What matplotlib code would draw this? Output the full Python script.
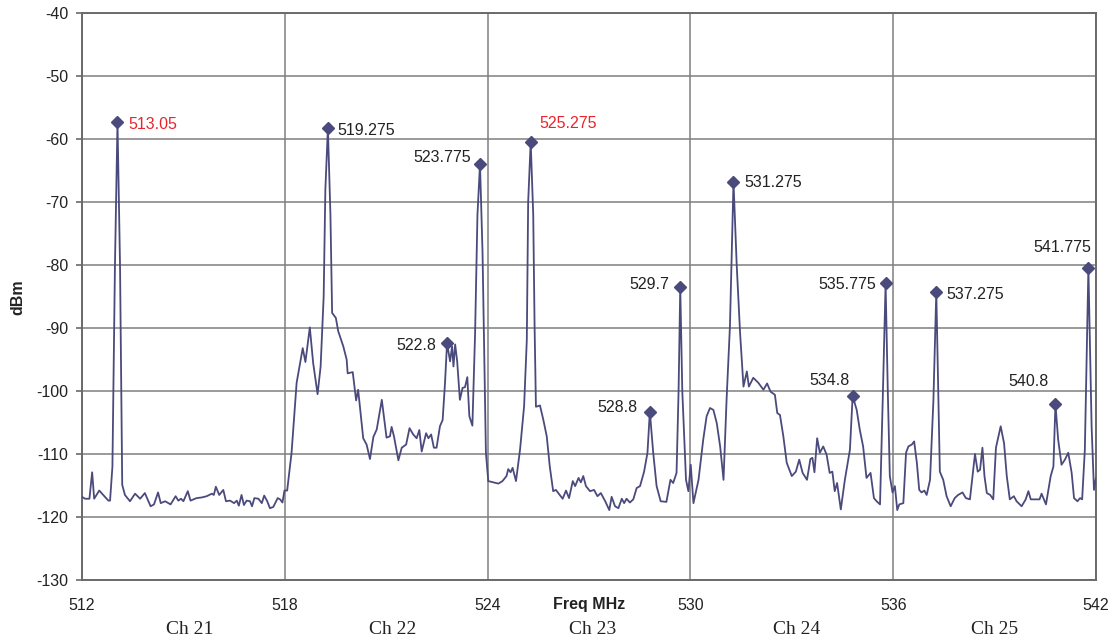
import numpy as np
import matplotlib.pyplot as plt
import matplotlib.transforms as mtransforms

# spectrum trace
freq = [512.00, 512.09, 512.22, 512.30, 512.36, 512.51, 512.63, 512.78, 512.83, 512.90,
        512.975, 513.05, 513.125, 513.19, 513.27, 513.42, 513.57, 513.72, 513.86, 514.03,
        514.13, 514.25, 514.33, 514.46, 514.62, 514.77, 514.85, 514.93, 515.00, 515.13,
        515.21, 515.39, 515.54, 515.69, 515.84, 515.90, 515.96, 516.06, 516.18, 516.26,
        516.38, 516.50, 516.58, 516.64, 516.72, 516.79, 516.87, 516.97, 517.03, 517.10,
        517.22, 517.32, 517.39, 517.48, 517.56, 517.66, 517.79, 517.86, 517.93, 517.99,
        518.07, 518.20, 518.35, 518.53, 518.61, 518.74, 518.84, 518.97, 519.06, 519.15,
        519.20, 519.275, 519.35, 519.40, 519.51, 519.58, 519.73, 519.83, 519.86, 520.01,
        520.11, 520.17, 520.32, 520.42, 520.52, 520.62, 520.72, 520.87, 521.01, 521.11,
        521.16, 521.23, 521.36, 521.46, 521.59, 521.69, 521.80, 521.90, 521.98, 522.05,
        522.18, 522.25, 522.33, 522.41, 522.49, 522.59, 522.67, 522.74, 522.80, 522.89,
        522.95, 522.99, 523.04, 523.10, 523.18, 523.26, 523.33, 523.40, 523.46, 523.55,
        523.63, 523.70, 523.775, 523.85, 523.95, 524.02, 524.17, 524.32, 524.44, 524.56,
        524.61, 524.68, 524.74, 524.84, 524.96, 525.08, 525.16, 525.20, 525.275, 525.35,
        525.39, 525.43, 525.55, 525.65, 525.75, 525.84, 525.94, 526.02, 526.09, 526.22,
        526.32, 526.41, 526.52, 526.59, 526.69, 526.76, 526.83, 526.91, 527.03, 527.15,
        527.25, 527.35, 527.48, 527.60, 527.67, 527.77, 527.87, 527.97, 528.04, 528.11,
        528.21, 528.31, 528.41, 528.51, 528.63, 528.73, 528.80, 528.90, 529.00, 529.12,
        529.29, 529.41, 529.49, 529.59, 529.65, 529.70, 529.76, 529.87, 529.94, 530.01,
        530.09, 530.24, 530.38, 530.48, 530.58, 530.68, 530.78, 530.88, 530.98, 531.07,
        531.17, 531.275, 531.37, 531.47, 531.57, 531.67, 531.73, 531.86, 532.01, 532.16,
        532.27, 532.37, 532.50, 532.57, 532.65, 532.75, 532.85, 533.00, 533.12, 533.22,
        533.32, 533.45, 533.55, 533.61, 533.67, 533.75, 533.83, 533.93, 534.03, 534.12,
        534.20, 534.27, 534.34, 534.45, 534.57, 534.72, 534.80, 534.92, 535.01, 535.11,
        535.21, 535.33, 535.43, 535.51, 535.61, 535.69, 535.775, 535.84, 535.90, 535.98,
        536.05, 536.12, 536.18, 536.30, 536.38, 536.45, 536.55, 536.62, 536.70, 536.77,
        536.84, 536.92, 536.99, 537.09, 537.19, 537.275, 537.38, 537.48, 537.58, 537.70,
        537.82, 537.92, 538.05, 538.15, 538.27, 538.42, 538.50, 538.57, 538.64, 538.70,
        538.77, 538.87, 538.96, 539.04, 539.18, 539.28, 539.36, 539.45, 539.57, 539.65,
        539.80, 539.92, 540.00, 540.07, 540.20, 540.33, 540.39, 540.52, 540.66, 540.74,
        540.80, 540.88, 540.98, 541.08, 541.18, 541.28, 541.35, 541.45, 541.53, 541.59,
        541.67, 541.775, 541.87, 541.94, 542.00]
dbm = [-116.8, -117.1, -117.1, -112.9, -117.1, -115.8, -116.5, -117.4, -117.4, -112.0,
       -80.0, -57.3, -80.0, -114.9, -116.5, -117.5, -116.3, -117.1, -116.2, -118.3,
       -118.0, -116.1, -117.8, -117.5, -118.0, -116.7, -117.4, -117.1, -117.5, -115.9,
       -117.4, -117.0, -116.9, -116.7, -116.3, -116.5, -115.2, -116.5, -115.7, -117.5,
       -117.4, -117.8, -117.4, -118.2, -116.5, -118.1, -117.4, -117.5, -118.3, -117.0,
       -117.1, -117.8, -116.6, -117.5, -118.6, -118.4, -117.0, -117.2, -117.7, -115.8,
       -115.8, -109.8, -98.7, -93.2, -95.4, -89.9, -95.6, -100.5, -96.1, -85.0,
       -68.0, -58.3, -72.0, -87.6, -88.4, -90.5, -92.9, -95.0, -97.2, -97.0,
       -101.5, -99.8, -107.5, -108.5, -110.8, -107.3, -106.1, -101.4, -107.4, -107.2,
       -105.7, -107.2, -111.0, -109.0, -108.5, -105.9, -106.9, -107.5, -106.2, -109.6,
       -106.7, -107.5, -106.9, -109.0, -109.0, -105.6, -104.6, -98.7, -92.4, -95.3,
       -92.9, -96.1, -92.6, -95.3, -101.4, -99.5, -99.4, -97.8, -104.0, -105.5,
       -90.8, -72.0, -64.0, -78.0, -109.8, -114.3, -114.5, -114.7, -114.3, -113.5,
       -112.4, -112.9, -112.2, -114.3, -109.3, -102.4, -91.9, -70.0, -60.5, -72.0,
       -89.7, -102.5, -102.3, -104.6, -107.2, -112.0, -115.9, -115.7, -116.2, -117.1,
       -115.8, -117.0, -114.3, -115.1, -113.8, -114.5, -113.5, -115.1, -115.9, -115.7,
       -116.7, -116.2, -117.5, -118.9, -116.8, -118.3, -118.6, -117.1, -117.8, -117.1,
       -117.7, -117.2, -115.4, -115.1, -112.8, -109.8, -103.3, -109.8, -115.1, -117.5,
       -117.6, -114.1, -114.6, -113.0, -100.0, -83.5, -100.0, -114.1, -115.9, -111.7,
       -117.8, -114.1, -107.7, -104.0, -102.7, -103.0, -105.1, -108.8, -114.1, -101.4,
       -89.7, -66.8, -80.0, -90.8, -99.3, -96.9, -99.3, -97.9, -98.7, -99.8,
       -98.8, -100.1, -100.6, -103.5, -103.8, -107.2, -111.4, -113.5, -112.8, -110.9,
       -113.0, -114.1, -110.8, -110.6, -112.9, -107.5, -109.8, -108.8, -110.1, -113.0,
       -112.8, -115.9, -114.6, -118.8, -114.1, -109.3, -100.8, -103.0, -106.1, -108.8,
       -113.8, -113.0, -117.0, -117.5, -118.0, -101.4, -82.9, -100.0, -113.5, -116.1,
       -115.1, -118.9, -118.0, -117.8, -109.8, -108.8, -108.5, -108.0, -111.4, -115.7,
       -116.1, -115.8, -116.5, -114.1, -101.4, -84.3, -112.8, -114.1, -116.7, -118.3,
       -117.0, -116.5, -116.1, -117.0, -117.2, -110.0, -112.8, -112.5, -109.0, -113.5,
       -116.2, -116.5, -117.2, -109.0, -105.6, -108.3, -113.5, -117.2, -116.7, -117.5,
       -118.3, -117.2, -115.9, -117.2, -117.2, -117.2, -116.3, -118.0, -113.5, -112.0,
       -102.1, -107.7, -111.7, -110.9, -109.8, -113.0, -117.0, -117.5, -117.0, -117.2,
       -109.3, -80.5, -105.6, -115.7, -113.8]

# marked peaks
mark_freq = [513.05, 519.275, 523.775, 525.275, 529.7, 531.275, 535.775, 537.275,
             541.775, 522.8, 528.8, 534.8, 540.8]
mark_db = [-57.3, -58.3, -64.0, -60.5, -83.5, -66.8, -82.9, -84.3,
           -80.5, -92.4, -103.3, -100.8, -102.1]
mark_text = ["513.05", "519.275", "523.775", "525.275", "529.7", "531.275", "535.775",
             "537.275", "541.775", "522.8", "528.8", "534.8", "540.8"]
red_marks = ["513.05", "525.275"]

channels = ["Ch 21", "Ch 22", "Ch 23", "Ch 24", "Ch 25"]
ch_centre = [515.2, 521.2, 527.1, 533.15, 539.0]

# label placement (pixels from marker, alignment)
offsets = [(11, -3, "left"), (9, -2, "left"), (-9, 7, "right"), (9, 19, "left"),
           (-11, 3, "right"), (11, -1, "left"), (-9, -1, "right"), (10, -2, "left"),
           (-26, 21, "center"), (-11, -2, "right"), (-12, 4, "right"),
           (-23, 16, "center"), (-27, 23, "center")]

plt.rcParams['font.family'] = ['Liberation Sans', 'DejaVu Sans']
plt.rcParams['axes.unicode_minus'] = False
line_col = "#4b4a7c"

fig = plt.figure(figsize=(11.17, 6.43), dpi=100)
ax = fig.add_axes([82 / 1117, 1 - 580 / 643, (1096 - 82) / 1117, (580 - 13) / 643])

ax.plot(freq, dbm, color=line_col, lw=1.3, zorder=3)
ax.plot(mark_freq, mark_db, ls="none", marker="D", ms=6, color=line_col, zorder=4)

for f, d, t, (dx, dy, ha) in zip(mark_freq, mark_db, mark_text, offsets):
    col = "#e8252d" if t in red_marks else "#222222"
    ax.annotate(t, (f, d), xytext=(dx, dy), textcoords="offset pixels",
                ha=ha, va="center", fontsize=11.5, color=col, zorder=5)

ax.set_xlim(512, 542)
ax.set_ylim(-130, -40)
ax.set_xticks(np.arange(512, 543, 6))
ax.set_yticks(np.arange(-130, -39, 10))
ax.grid(True, color="#7f7f7f", lw=1.1)
ax.set_axisbelow(True)
for s in ax.spines.values():
    s.set_color("#6a6a6a")
    s.set_linewidth(1.4)
ax.tick_params(axis="x", length=0, pad=13, labelsize=11.5, colors="#222222")
ax.tick_params(axis="y", length=4, width=1.2, pad=6, labelsize=11.5,
               colors="#222222", color="#6a6a6a")

fig.text(589 / 1117, 1 - 605 / 643, "Freq MHz", ha="center", va="center",
         fontsize=11.5, fontweight="bold", color="#222222")
fig.text(18 / 1117, 1 - 297 / 643, "dBm", ha="center", va="center", rotation=90,
         fontsize=11.5, fontweight="bold", color="#222222")

trans = mtransforms.blended_transform_factory(ax.transData, fig.transFigure)
for name, c in zip(channels, ch_centre):
    ax.text(c, 1 - 630 / 643, name, transform=trans, ha="center", va="center",
            fontsize=14, family="Liberation Serif", color="#222222")

fig.savefig("out.png", dpi=100)
